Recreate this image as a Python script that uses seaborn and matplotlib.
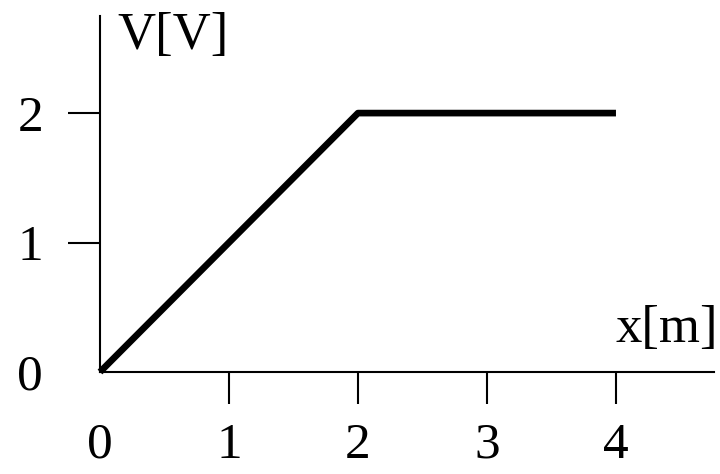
import matplotlib
matplotlib.use("Agg")
import matplotlib.pyplot as plt
import pandas as pd
import seaborn as sns

# piecewise potential along x
x_m = [0, 2, 4]
v_volt = [0, 2, 2]
x_ticks = [0, 1, 2, 3, 4]
y_ticks = [0, 1, 2]

sns.set_style("ticks")
plt.rcParams["font.family"] = ["Liberation Serif", "DejaVu Serif"]
plt.rcParams["text.color"] = "black"

df = pd.DataFrame({"x": x_m, "V": v_volt})

fig = plt.figure(figsize=(7.2, 4.74), dpi=100)
ax = fig.add_axes([100 / 720, 102 / 474, 614 / 720, 356 / 474])

sns.lineplot(data=df, x="x", y="V", ax=ax, color="black", lw=4.8,
             solid_capstyle="butt", clip_on=False)

ax.set_xlim(0, 4.76)
ax.set_ylim(0, 2.75)
ax.set_xticks(x_ticks)
ax.set_yticks(y_ticks)
ax.set_xticklabels([str(t) for t in x_ticks])
ax.set_yticklabels([str(t) for t in y_ticks])
ax.set_xlabel("")
ax.set_ylabel("")

sns.despine(ax=ax)
for s in ("left", "bottom"):
    ax.spines[s].set_linewidth(1.5)
    ax.spines[s].set_color("black")

ax.tick_params(axis="both", labelsize=37, length=23, width=1.5,
               color="black", labelcolor="black")
ax.tick_params(axis="x", pad=13)
ax.tick_params(axis="y", pad=18)
# no tick marks at the origin
ax.xaxis.get_major_ticks()[0].tick1line.set_visible(False)
ax.yaxis.get_major_ticks()[0].tick1line.set_visible(False)

fig.text(117 / 720, 1 - 49 / 474, "V[V]", fontsize=38, va="baseline",
         color="black")
fig.text(615 / 720, 1 - 342 / 474, "x[m]", fontsize=38, va="baseline",
         color="black")

fig.savefig("out.png", dpi=100)
plt.close(fig)
